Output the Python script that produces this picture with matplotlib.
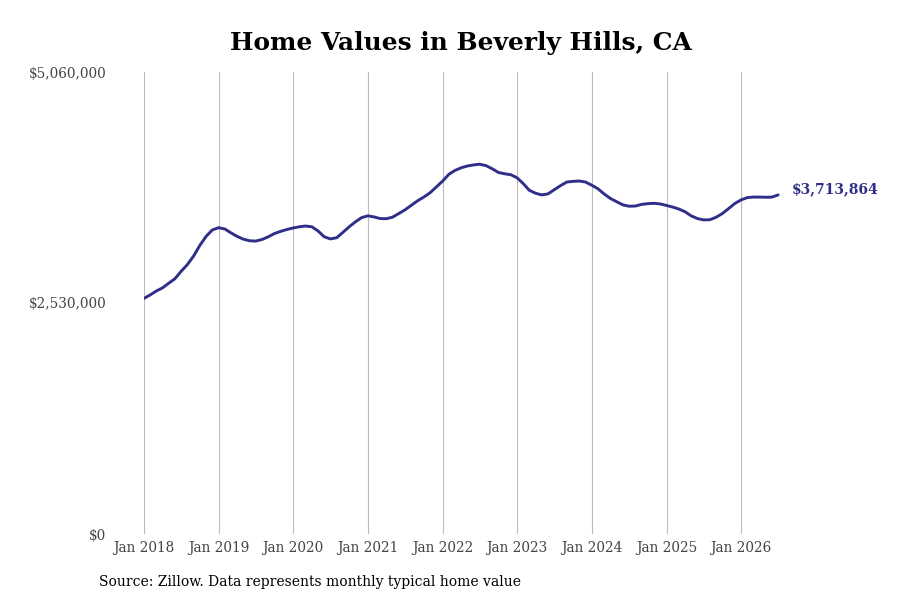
import matplotlib

matplotlib.use("Agg")
import matplotlib.dates as mdates
import matplotlib.pyplot as plt
import pandas as pd
from matplotlib.ticker import FuncFormatter

# monthly typical home value, Jan 2018 .. Jul 2026
months = pd.date_range("2018-01-01", "2026-07-01", freq="MS")
home_values = [
    2580000, 2620000, 2660000, 2695000, 2745000, 2795000,
    2875000, 2950000, 3045000, 3160000, 3260000, 3330000,
    3355000, 3340000, 3300000, 3260000, 3230000, 3212000,
    3208000, 3225000, 3255000, 3290000, 3315000, 3335000,
    3352000, 3365000, 3373000, 3365000, 3320000, 3255000,
    3232000, 3245000, 3305000, 3365000, 3420000, 3465000,
    3485000, 3472000, 3455000, 3453000, 3470000, 3510000,
    3550000, 3600000, 3650000, 3690000, 3738000, 3800000,
    3865000, 3940000, 3980000, 4010000, 4030000, 4042000,
    4050000, 4035000, 4000000, 3960000, 3945000, 3935000,
    3900000, 3835000, 3765000, 3732000, 3714000, 3725000,
    3770000, 3815000, 3855000, 3862000, 3866000, 3855000,
    3820000, 3780000, 3725000, 3675000, 3640000, 3605000,
    3590000, 3592000, 3610000, 3618000, 3622000, 3615000,
    3598000, 3580000, 3560000, 3530000, 3485000, 3455000,
    3440000, 3442000, 3470000, 3510000, 3565000, 3620000,
    3660000, 3685000, 3690000, 3690000, 3688000, 3690000,
    3713864,
]
y_ticks = [0, 2530000, 5060000]
title = "Home Values in Beverly Hills, CA"
source = "Source: Zillow. Data represents monthly typical home value"

C_LINE = "#2f2e88"
C_GRID = "#bdbdbd"
C_TICK = "#444444"

plt.rcParams["font.family"] = ["DejaVu Serif"]

fig = plt.figure(figsize=(9, 6), dpi=100)
ax = fig.add_axes([144 / 900, 66 / 600, 636 / 900, 462 / 600])

ax.plot(months, home_values, color=C_LINE, linewidth=2.1, solid_capstyle="round")

ax.set_xlim(pd.Timestamp("2018-01-01"), pd.Timestamp("2026-07-10"))
ax.set_ylim(0, 5060000)

ax.xaxis.set_major_locator(mdates.YearLocator())
ax.xaxis.set_major_formatter(mdates.DateFormatter("%b %Y"))
ax.set_yticks(y_ticks)
ax.yaxis.set_major_formatter(FuncFormatter(lambda v, _: f"${v:,.0f}"))

ax.tick_params(axis="x", length=0, pad=5, labelsize=9.8, labelcolor=C_TICK)
ax.tick_params(axis="y", length=0, pad=27, labelsize=9.8, labelcolor=C_TICK)

ax.grid(True, axis="x", color=C_GRID, linewidth=0.8)
ax.grid(False, axis="y")
for spine in ax.spines.values():
    spine.set_visible(False)

ax.annotate(
    f"${home_values[-1]:,.0f}",
    xy=(months[-1], home_values[-1]),
    xytext=(10, 4),
    textcoords="offset points",
    va="center",
    ha="left",
    fontsize=10,
    fontweight="bold",
    color=C_LINE,
    annotation_clip=False,
)

fig.text(461 / 900, 1 - 43 / 600, title, ha="center", va="center",
         fontsize=17.9, fontweight="bold", color="black")
fig.text(99 / 900, 1 - 582 / 600, source, ha="left", va="center",
         fontsize=10, color="black")

fig.savefig("out.png", dpi=100)
